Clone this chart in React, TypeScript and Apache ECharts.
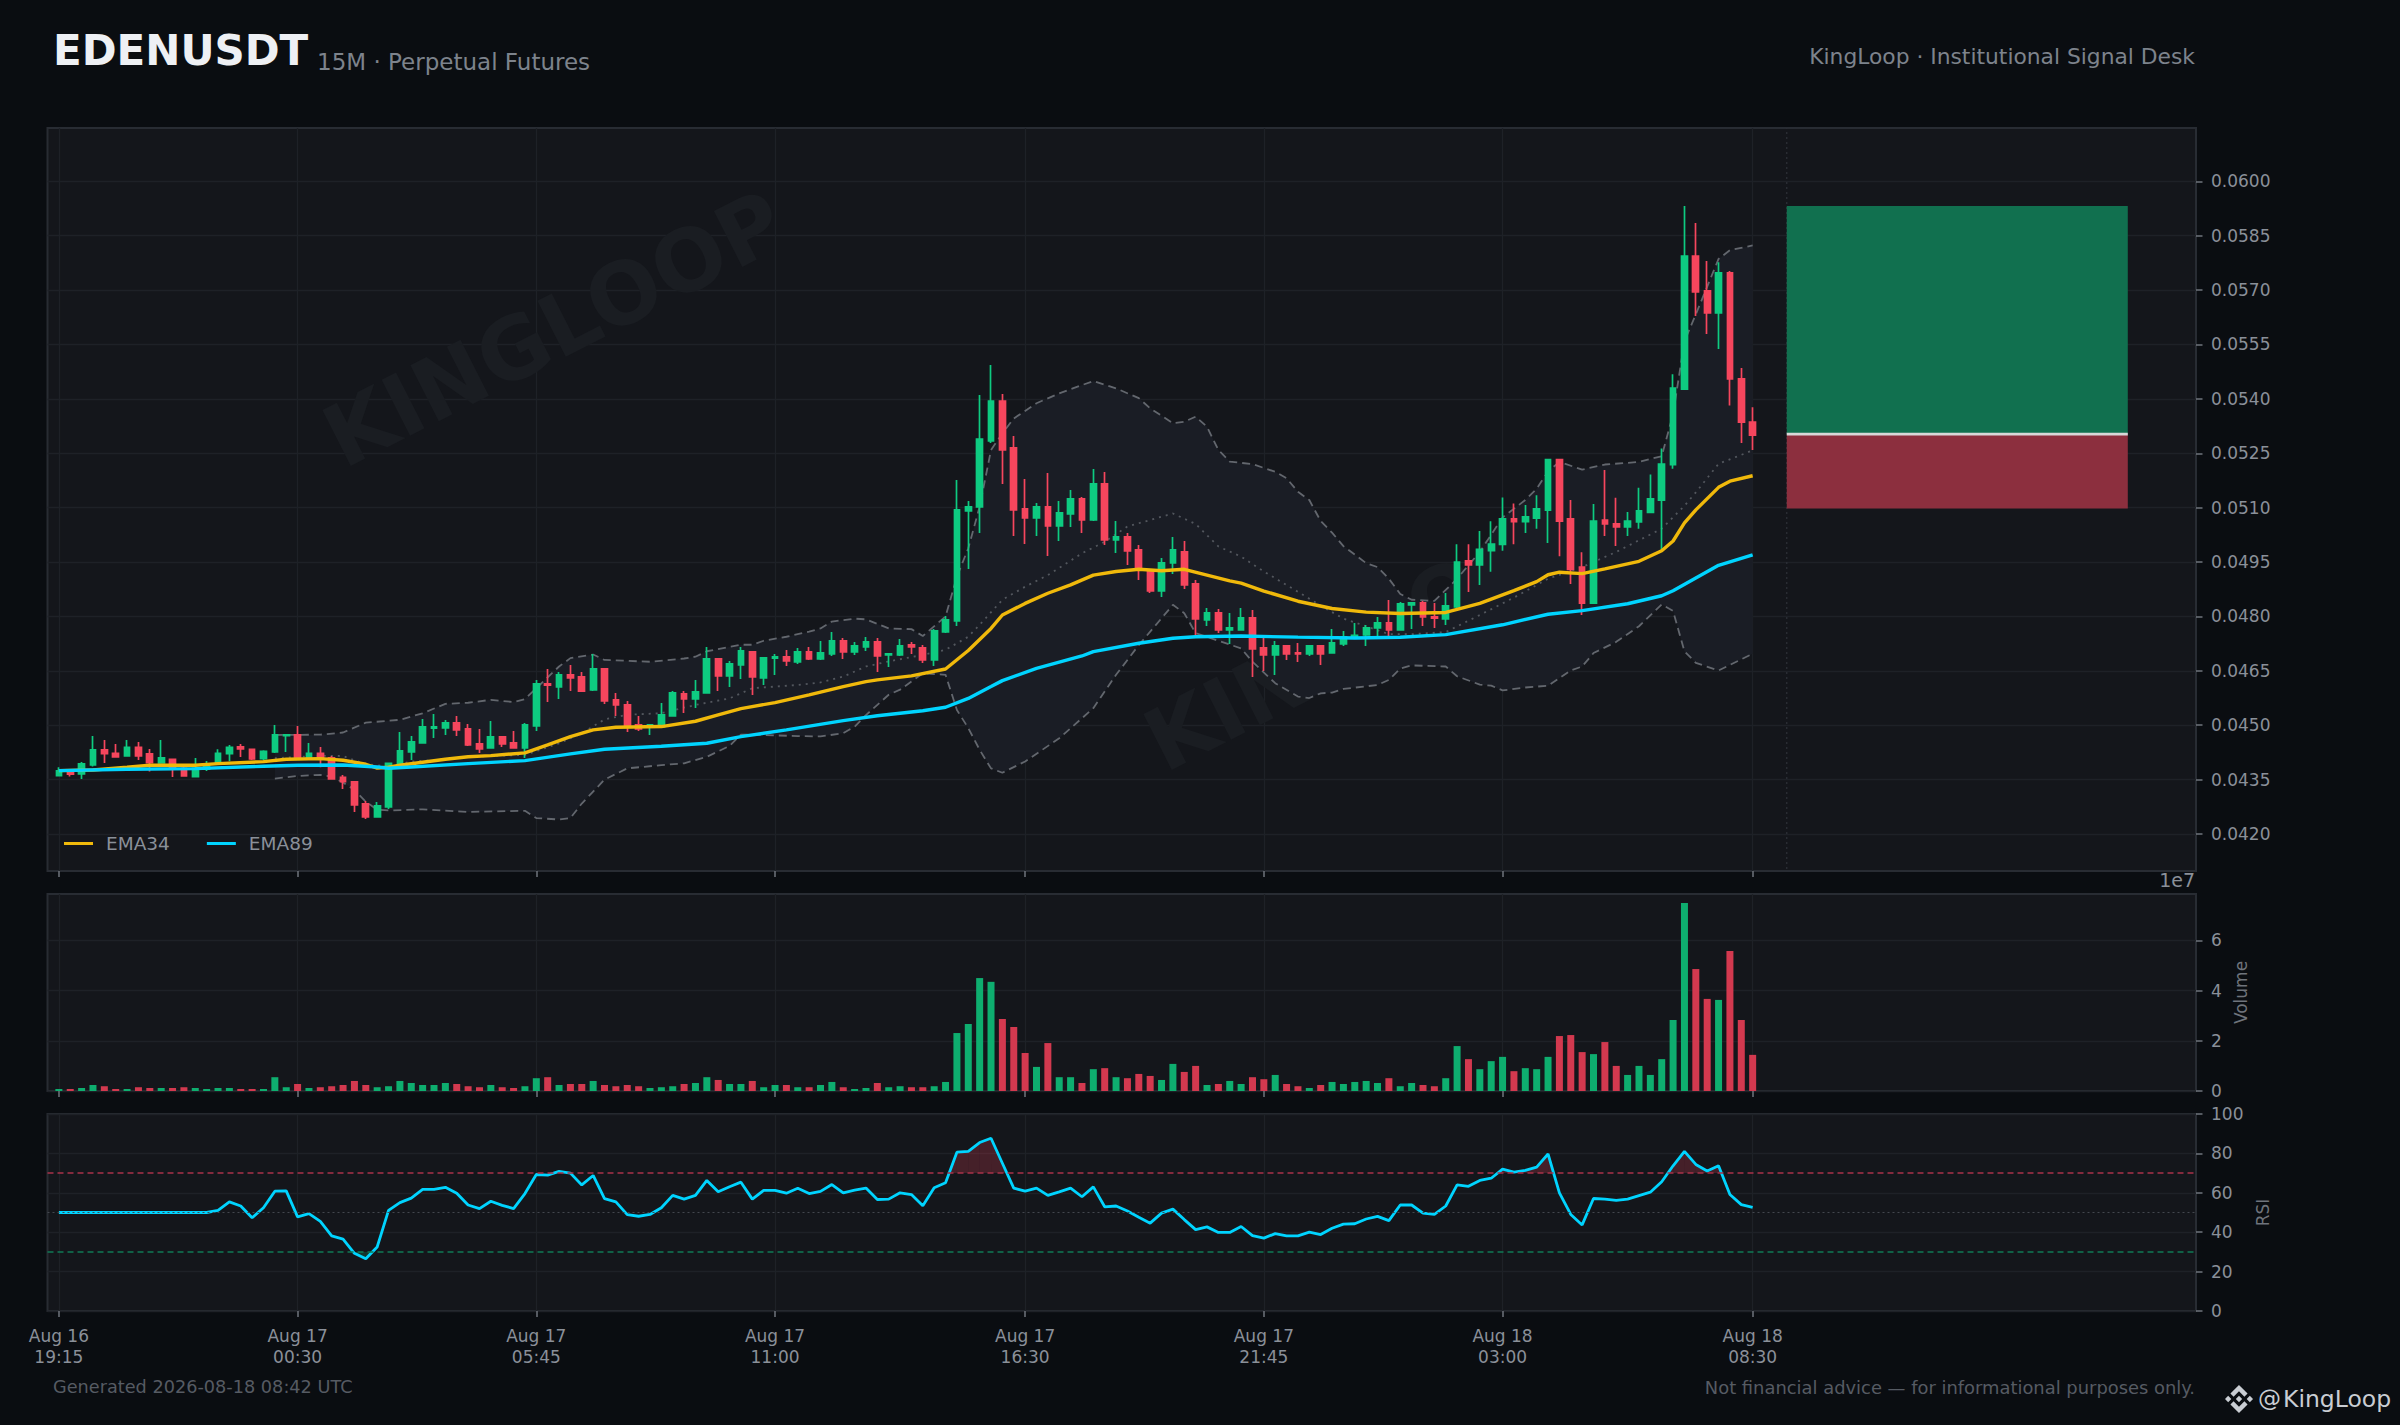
import React, { useEffect, useRef } from "react";
import * as echarts from "echarts";

const FONT = '"DejaVu Sans"';

const opens = [.043611,.043749,.043657,.043905,.044319,.044227,.044153,.044392,.044209,.043960,
.044062,.043813,.043584,.043786,.043933,.044218,.044402,.044337,.044080,.044264,
.044714,.044732,.044107,.044227,.044098,.043565,.043437,.042830,.042472,.042747,
.043933,.044264,.044512,.044916,.044925,.045063,.044898,.044485,.044374,.044678,
.044512,.044374,.044981,.046139,.046056,.046387,.046332,.045974,.046553,.045698,
.045560,.045009,.044963,.044963,.045257,.045863,.045725,.045891,.046828,.046360,
.046663,.047021,.046304,.046847,.046884,.046746,.047021,.046828,.046966,.047325,
.047021,.047159,.047297,.046939,.046939,.047214,.047132,.046801,.047573,.047876,
.050909,.051019,.052839,.053942,.052646,.050964,.050716,.051019,.050496,.050826,
.051240,.050661,.051654,.050110,.050192,.049834,.049282,.048703,.049475,.049779,
.048896,.047904,.048097,.047628,.047628,.047959,.047132,.046939,.047187,.046994,
.046966,.047187,.046994,.047242,.047453,.047490,.047683,.047821,.047628,.048317,
.048372,.047986,.047931,.048264,.049530,.049424,.049815,.049984,.050691,.050617,
.050712,.050933,.052327,.050691,.049361,.048370,.050659,.050554,.050469,.050607,
.050870,.051208,.052189,.054268,.057940,.056980,.056368,.057476,.054553,.053360];

const closes = [.043740,.043648,.043933,.044319,.044218,.044126,.044392,.044153,.043970,.044098,
.043813,.043602,.043813,.043905,.044227,.044392,.044346,.044071,.044282,.044732,
.044732,.044107,.044227,.044098,.043519,.043446,.042802,.042472,.042775,.043951,
.044291,.044539,.044953,.044953,.045063,.044870,.044457,.044347,.044678,.044485,
.044374,.045009,.046139,.046102,.046387,.046304,.045937,.046553,.045670,.045560,
.044953,.044898,.045009,.045284,.045891,.045725,.045919,.046828,.046360,.046691,
.047049,.046332,.046856,.046884,.046773,.047021,.046828,.046994,.047325,.047021,
.047187,.047297,.046911,.046966,.047187,.047159,.046801,.047600,.047904,.050937,
.051019,.052894,.053942,.052591,.050937,.050716,.051019,.050496,.050854,.051240,
.050661,.051654,.050110,.050192,.049806,.049282,.048703,.049475,.049834,.048869,
.047931,.048097,.047628,.047683,.047959,.047104,.046939,.047187,.046966,.046966,
.047187,.046966,.047269,.047435,.047481,.047683,.047821,.047628,.048345,.048372,
.047986,.047950,.048290,.049500,.049424,.049847,.049994,.050691,.050617,.050744,
.050965,.052327,.050628,.049298,.048370,.050628,.050554,.050469,.050628,.050912,
.051240,.052199,.054299,.057940,.056948,.056368,.057476,.054553,.053360,.053002];

const highs = [.043841,.043767,.043988,.044705,.044595,.044484,.044595,.044539,.044346,.044595,
.044062,.043905,.044098,.044016,.044337,.044457,.044484,.044337,.044310,.045008,
.044732,.044981,.044512,.044402,.044153,.043630,.043464,.042913,.042885,.043951,
.044815,.044705,.045174,.045312,.045146,.045256,.045036,.044898,.045119,.044678,
.044843,.045064,.046249,.046553,.046470,.046663,.046470,.046966,.046553,.045891,
.045670,.045257,.045036,.045615,.045946,.045946,.046249,.047159,.046828,.046773,
.047159,.047049,.046884,.046966,.047077,.047132,.047159,.047325,.047573,.047407,
.047297,.047435,.047407,.046966,.047380,.047297,.047214,.047655,.048014,.051764,
.051185,.054108,.054935,.054135,.052977,.051792,.051130,.051957,.051185,.051488,
.051295,.052067,.051984,.050633,.050302,.049972,.049282,.049613,.050192,.050082,
.049007,.048235,.048207,.048097,.048235,.048179,.047407,.047325,.047214,.047269,
.047214,.047187,.047655,.047600,.047821,.047766,.047986,.048455,.048400,.048400,
.048428,.048372,.048648,.049994,.049994,.050353,.050628,.051282,.051113,.051070,
.051345,.052337,.052337,.051208,.049773,.051102,.052041,.051271,.050881,.051546,
.051915,.052632,.054680,.059322,.058847,.057803,.057771,.057529,.054848,.053772];

const lows = [.043584,.043584,.043519,.043859,.043960,.044126,.044153,.044043,.043721,.043960,
.043574,.043584,.043584,.043740,.043905,.044006,.044126,.044043,.044043,.044236,
.044264,.044043,.044043,.043841,.043519,.043244,.042609,.042416,.042472,.042692,
.043905,.044043,.044512,.044650,.044732,.044705,.044430,.044237,.044374,.044402,
.044374,.044099,.044843,.045643,.045725,.045946,.045919,.045946,.045588,.045257,
.044816,.044843,.044733,.044926,.045257,.045339,.045477,.045891,.045946,.046056,
.046277,.045836,.046111,.046387,.046635,.046691,.046801,.046801,.046911,.046828,
.046939,.047049,.046470,.046608,.046911,.046966,.046718,.046635,.047545,.047738,
.049310,.050302,.052784,.051654,.050220,.050000,.050220,.049668,.050082,.050468,
.050302,.050633,.049972,.049751,.049420,.049007,.048648,.048538,.049172,.048758,
.047490,.047738,.047545,.047242,.047628,.046332,.046497,.046387,.046801,.046746,
.046911,.046663,.046994,.047187,.047435,.047187,.047435,.047462,.047628,.047655,
.047738,.047683,.047766,.048232,.048675,.048865,.049235,.049815,.049994,.050300,
.050416,.050026,.049657,.048897,.048042,.048348,.050216,.049942,.050216,.050416,
.050860,.049836,.052073,.054268,.056283,.055787,.055376,.053814,.052780,.052590];

const volumesE7 = [.08,.08,.12,.24,.19,.08,.08,.15,.12,.12,.12,.15,.12,.08,.12,.12,.08,.08,.08,.55,
.15,.28,.12,.15,.19,.24,.40,.24,.15,.19,.40,.32,.24,.24,.32,.28,.19,.15,.24,.15,
.12,.19,.51,.55,.24,.28,.28,.40,.24,.19,.24,.19,.12,.15,.19,.28,.32,.55,.44,.28,
.28,.40,.15,.24,.24,.15,.15,.24,.36,.15,.08,.12,.32,.15,.19,.15,.15,.19,.36,2.31,
2.67,4.50,4.35,2.87,2.55,1.51,.96,1.91,.55,.55,.32,.87,.91,.55,.51,.68,.60,.44,1.08,.76,
1.00,.24,.28,.40,.28,.55,.47,.64,.28,.19,.12,.24,.36,.28,.36,.40,.32,.51,.19,.32,
.24,.19,.51,1.79,1.27,.87,1.19,1.36,.79,.91,.87,1.36,2.19,2.23,1.55,1.47,1.95,1.00,.64,1.00,
.64,1.27,2.83,7.49,4.86,3.67,3.63,5.58,2.83,1.44];

const rsiValues = [50,50,50,50,50,50,50,50,50,50,50,50,50,50,51.1,55.4,53.3,47.3,52.4,60.8,
61.0,47.8,49.4,45.5,38.1,36.5,29.3,26.5,32.5,51.1,55.0,57.3,61.7,61.7,62.8,59.8,53.8,52.0,55.7,53.6,
52.0,59.6,69.3,69.0,70.9,70.0,64.0,68.8,57.0,55.4,48.9,48.1,49.0,52.4,58.7,56.8,58.7,66.3,60.5,63.1,
65.4,56.8,61.2,61.2,59.8,62.3,59.6,60.7,64.2,60.0,61.4,62.4,56.6,56.8,60.0,59.1,53.4,62.6,65.1,80.6,
81.0,85.5,87.7,75.0,62.4,60.8,62.4,58.7,60.5,62.4,58.0,63.0,52.9,53.3,50.8,47.6,44.6,49.7,51.7,46.4,
41.3,42.7,39.9,39.9,42.9,38.3,37.0,39.3,38.1,38.1,40.0,38.8,42.0,44.1,44.3,46.7,48.0,45.9,53.8,53.8,
49.7,49.0,53.3,64.0,63.3,66.3,67.4,72.0,70.5,71.4,73.0,79.7,60.0,49.0,43.7,57.1,56.8,56.1,56.8,58.6,
60.3,65.6,73.7,81.0,74.4,71.1,73.7,59.1,54.0,52.6];

const ema34Points = [[0,.043749],[3,.043767],[6,.043841],[8,.043896],[12,.043896],[14,.043942],[18,.043997],[20,.044062],[23,.044080],[25,.044034],[27,.043924],[28,.04382],[29,.043841],[30,.043896],[32,.043979],[34,.044062],[36,.04413],[38,.044163],[41,.044237],[43,.044457],[45,.044687],[47,.044871],[49,.044944],[53,.044963],[56,.04511],[58,.045284],[60,.045459],[63,.045624],[66,.045836],[69,.046066],[71,.046203],[72,.04625],[75,.04636],[78,.04655],[80,.04706],[82,.04767],[83,.04804],[85,.04836],[87,.04864],[89,.04887],[91,.04914],[93,.04924],[95,.0493],[97,.04926],[99,.0493],[101,.04914],[103,.04898],[104,.04892],[106,.0487],[109,.04842],[112,.04822],[115,.04812],[118,.04808],[122,.04811],[125,.04836],[128,.04871],[130,.04896],[131,.04915],[132,.04922],[134,.04918],[136,.04931],[139,.04952],[141,.04981],[142,.05008],[143,.05058],[144,.05094],[146,.05156],[147,.05173],[149,.05188]];

const ema89Points = [[0,.043749],[6,.043786],[12,.043804],[18,.043868],[21,.043896],[25,.043905],[28,.04385],[29,.043813],[31,.04385],[36,.04394],[41,.044025],[45,.044209],[48,.044338],[53,.04442],[57,.044503],[60,.044687],[64,.044871],[69,.045128],[72,.04526],[76,.0454],[78,.045495],[80,.04574],[82,.046065],[83,.04623],[86,.04657],[90,.04691],[91,.04703],[95,.04726],[98,.0474],[100,.04744],[104,.04746],[109,.04743],[114,.047407],[118,.047426],[122,.0475],[127,.04777],[131,.04806],[134,.04816],[138,.04835],[141,.04857],[142,.04871],[144,.04906],[146,.04941],[149,.0497]];

const bbUpperPoints = [[19,.04473],[23,.04474],[25,.0448],[27,.04507],[30,.04515],[32,.04533],[34,.04559],[36,.04562],[38,.0457],[40,.04564],[41,.04572],[42,.04602],[44,.04662],[45,.04685],[47,.04695],[48,.0468],[52,.04675],[55,.04684],[56,.04689],[57,.04704],[60,.04722],[61,.04722],[62,.04733],[64,.04744],[66,.04758],[67,.04767],[68,.04786],[70,.04794],[71,.04792],[73,.04767],[75,.04765],[76,.04746],[78,.048],[79,.0491],[80,.04988],[81,.05103],[82,.05259],[83,.05305],[84,.05346],[86,.05388],[88,.05415],[90,.05438],[91,.05449],[93,.05429],[95,.05402],[96,.05374],[98,.05333],[99,.05337],[100,.05351],[101,.05323],[102,.05259],[103,.05227],[105,.0522],[107,.05199],[108,.05181],[109,.05144],[110,.05121],[111,.05063],[112,.05031],[113,.04994],[115,.04947],[116,.04936],[117,.04904],[118,.04862],[119,.04846],[121,.04843],[122,.04873],[123,.04904],[125,.04978],[127,.05073],[129,.05121],[130,.05152],[131,.052],[132,.05226],[134,.05205],[136,.05219],[139,.05226],[141,.05242],[142,.05358],[143,.05559],[144,.05633],[146,.05786],[147,.0581],[149,.05823]];

const bbMidPoints = [[19,.04409],[23,.04416],[25,.04415],[27,.04392],[28,.0439],[29,.04384],[31,.044],[33,.04404],[36,.04413],[41,.04418],[44,.0445],[46,.04478],[48,.04516],[50,.04529],[53,.04533],[56,.04556],[59,.04574],[61,.04602],[65,.04611],[67,.04618],[69,.04634],[71,.04662],[73,.04676],[76,.04694],[78,.04708],[80,.04744],[81,.04777],[83,.04846],[85,.04882],[87,.04914],[90,.04974],[92,.05006],[94,.05048],[98,.05084],[100,.05055],[102,.04993],[104,.04965],[106,.04924],[109,.04868],[111,.0483],[113,.04794],[115,.04773],[117,.04751],[119,.04751],[122,.04757],[125,.04804],[128,.04852],[131,.04904],[134,.04936],[137,.04978],[141,.05042],[143,.05105],[144,.05142],[146,.05221],[149,.05258]];

const bbLowerPoints = [[19,.04353],[21,.0436],[23,.04363],[24,.04358],[25,.04342],[26,.04322],[27,.04289],[28,.04267],[29,.04265],[32,.04268],[36,.04261],[41,.04264],[42,.04244],[44,.0424],[45,.04244],[46,.04284],[48,.0435],[50,.04381],[53,.0439],[55,.04395],[57,.04413],[59,.04443],[60,.04474],[62,.04473],[65,.0447],[67,.04469],[69,.04478],[70,.04496],[71,.04528],[73,.04584],[74,.04598],[76,.04643],[78,.04639],[79,.04542],[80,.04492],[81,.04432],[82,.04381],[83,.04369],[85,.044],[88,.04464],[91,.04547],[93,.04639],[95,.04721],[98,.04832],[99,.04809],[100,.04754],[104,.04712],[105,.04675],[107,.04616],[109,.04579],[110,.04575],[111,.04588],[112,.0459],[113,.046],[116,.04611],[117,.04625],[118,.04656],[119,.04665],[122,.04662],[123,.04635],[125,.04612],[126,.04609],[127,.04596],[129,.04604],[131,.04609],[133,.04651],[134,.04662],[135,.04699],[137,.0473],[139,.04773],[141,.04833],[142,.04815],[143,.04704],[144,.04672],[146,.04651],[149,.04697]];

const zoneStartIndex = 152;
const zoneEndIndex = 182;
const targetPrice = 0.05932;
const entryPrice = 0.05303;
const stopPrice = 0.05098;

const xTickIndexes = [0, 21, 42, 63, 85, 106, 127, 149];
const xTickLabels = ["Aug 16\n19:15", "Aug 17\n00:30", "Aug 17\n05:45", "Aug 17\n11:00", "Aug 17\n16:30", "Aug 17\n21:45", "Aug 18\n03:00", "Aug 18\n08:30"];
const priceTickLabels = ["0.0420", "0.0435", "0.0450", "0.0465", "0.0480", "0.0495", "0.0510", "0.0525", "0.0540", "0.0555", "0.0570", "0.0585", "0.0600"];
const volumeTicks = [0, 2, 4, 6];
const rsiTicks = [0, 20, 40, 60, 80, 100];

const BG = "#0a0d11";
const PANEL = "#14161b";
const BORDER = "#282c33";
const GRID = "#1e2127";
const TICK = "#6f747c";
const LABEL = "#8a9099";
const UP = "#0ecb81";
const DOWN = "#f6465d";
const VOL_UP = "#0eae6f";
const VOL_DOWN = "#d3394f";
const EMA34 = "#f0b90b";
const EMA89 = "#00d4ff";

const LOGO =
  "M16.624 13.9202l2.7175 2.7154-7.353 7.353-7.353-7.352 2.7175-2.7164 4.6355 4.6595 4.6356-4.6595zm4.6366-4.6366L24 12l-2.7154 2.7164L18.5682 12l2.6924-2.7164zm-9.272.001l2.7163 2.6914-2.7164 2.7174v-.001L9.2721 12l2.7164-2.7154zm-9.2722-.001L5.4088 12l-2.6914 2.6924L0 12l2.7164-2.7164zM11.9885.0115l7.353 7.329-2.7174 2.7154-4.6356-4.6356-4.6355 4.6595-2.7174-2.7154 7.353-7.353z";
echarts.graphic.registerShape("logo", echarts.graphic.extendPath(LOGO, {}));

const xAxisFor = (gridIndex: number, showLabel: boolean) => ({
  type: "value",
  gridIndex,
  min: -1,
  max: 188,
  axisLine: { show: false, onZero: false },
  axisTick: { show: true, length: 6, customValues: xTickIndexes, lineStyle: { color: TICK, width: 1.5 } },
  axisLabel: {
    show: showLabel,
    customValues: xTickIndexes,
    color: LABEL,
    fontFamily: FONT,
    fontSize: 17,
    lineHeight: 21,
    margin: 14,
    formatter: (v: number) => xTickLabels[xTickIndexes.indexOf(Math.round(v))] ?? "",
  },
  splitLine: { show: true, lineStyle: { color: GRID, width: 1.3 } },
});

const yAxisFor = (gridIndex: number, extra: any) => ({
  type: "value",
  gridIndex,
  position: "right",
  axisLine: { show: false, onZero: false },
  axisTick: { show: true, length: 6.5, lineStyle: { color: TICK, width: 1.5 }, ...(extra.ticks ? { customValues: extra.ticks } : {}) },
  axisLabel: {
    color: LABEL,
    fontFamily: FONT,
    fontSize: 17,
    margin: 15,
    ...(extra.ticks ? { customValues: extra.ticks } : {}),
    ...(extra.formatter ? { formatter: extra.formatter } : {}),
  },
  splitLine: { show: true, lineStyle: { color: GRID, width: 1.3 } },
  min: extra.min,
  max: extra.max,
  ...(extra.name
    ? {
        name: extra.name,
        nameLocation: "middle",
        nameRotate: 90,
        nameGap: extra.nameGap,
        nameTextStyle: { color: "#6f747c", fontFamily: FONT, fontSize: 17 },
      }
    : {}),
});

const text = (t: string, x: number, y: number, font: string, fill: string, align = "left", extra: any = {}) => ({
  type: "text",
  x,
  y,
  silent: true,
  ...extra,
  style: { text: t, x: 0, y: 0, font, fill, textAlign: align, textVerticalAlign: "middle" },
});

export default function App() {
  const ref = useRef<HTMLDivElement>(null);
  useEffect(() => {
    document.body.style.margin = "0";
    document.body.style.background = BG;
    const chart = echarts.init(ref.current!, undefined, { renderer: "svg" });

    const candleData = opens.map((o, i) => [i, o, closes[i], lows[i], highs[i]]);
    const volumeData = volumesE7.map((v, i) => ({
      value: [i, v],
      itemStyle: { color: closes[i] >= opens[i] ? VOL_UP : VOL_DOWN },
    }));
    const rsiData = rsiValues.map((v, i) => [i, v]);

    const bandPolygon = () => ({
      type: "custom",
      xAxisIndex: 0,
      yAxisIndex: 0,
      z: 1,
      silent: true,
      clip: true,
      data: [[bbUpperPoints[0][0], bbUpperPoints[0][1]]],
      renderItem: (_p: any, api: any) => ({
        type: "polygon",
        shape: { points: [...bbUpperPoints, ...[...bbLowerPoints].reverse()].map((p) => api.coord(p)) },
        style: { fill: "#1a1d25" },
      }),
    });

    const zonesSeries = {
      type: "custom",
      xAxisIndex: 0,
      yAxisIndex: 0,
      z: 1,
      silent: true,
      clip: true,
      data: [[zoneStartIndex, entryPrice]],
      renderItem: (_p: any, api: any) => {
        const tl = api.coord([zoneStartIndex, targetPrice]);
        const mr = api.coord([zoneEndIndex, entryPrice]);
        const br = api.coord([zoneEndIndex, stopPrice]);
        const ml = api.coord([zoneStartIndex, entryPrice]);
        const vt = api.coord([zoneStartIndex, 0.0615]);
        const vb = api.coord([zoneStartIndex, 0.0409]);
        return {
          type: "group",
          children: [
            { type: "line", shape: { x1: vt[0], y1: vt[1], x2: vb[0], y2: vb[1] }, style: { stroke: "#2c3037", lineWidth: 1.3, lineDash: [2, 3] } },
            { type: "rect", shape: { x: tl[0], y: tl[1], width: mr[0] - tl[0], height: mr[1] - tl[1] }, style: { fill: "#11704f" } },
            { type: "rect", shape: { x: ml[0], y: ml[1], width: br[0] - ml[0], height: br[1] - ml[1] }, style: { fill: "#8c2f3e" } },
            { type: "line", shape: { x1: ml[0], y1: ml[1], x2: mr[0], y2: mr[1] }, style: { stroke: "#d8d8d8", lineWidth: 2.8 } },
          ],
        };
      },
    };

    const rsiFillSeries = {
      type: "custom",
      xAxisIndex: 2,
      yAxisIndex: 2,
      z: 1,
      silent: true,
      clip: true,
      data: [[0, 50]],
      renderItem: (_p: any, api: any) => {
        const children: any[] = [];
        const addRegion = (level: number, above: boolean, fill: string) => {
          for (let i = 0; i < rsiValues.length - 1; i++) {
            const a = rsiValues[i];
            const b = rsiValues[i + 1];
            const inA = above ? a > level : a < level;
            const inB = above ? b > level : b < level;
            if (!inA && !inB) continue;
            const cross = inA && inB ? null : i + (level - a) / (b - a);
            const pts = inA && inB
              ? [[i, level], [i, a], [i + 1, b], [i + 1, level]]
              : inA
              ? [[i, level], [i, a], [cross, level]]
              : [[cross, level], [i + 1, b], [i + 1, level]];
            children.push({ type: "polygon", shape: { points: pts.map((p) => api.coord(p)) }, style: { fill } });
          }
        };
        addRegion(70, true, "rgba(246,70,93,0.22)");
        addRegion(30, false, "rgba(14,203,129,0.18)");
        return { type: "group", children };
      },
    };

    const bbLine = (name: string, data: number[][], dash: number[], color: string) => ({
      name,
      type: "line",
      xAxisIndex: 0,
      yAxisIndex: 0,
      z: 2,
      data,
      showSymbol: false,
      symbol: "none",
      silent: true,
      lineStyle: { color, width: 1.8, type: dash },
    });

    const emaLine = (name: string, data: number[][], color: string) => ({
      name,
      type: "line",
      xAxisIndex: 0,
      yAxisIndex: 0,
      z: 5,
      data,
      showSymbol: false,
      symbol: "none",
      silent: true,
      itemStyle: { color },
      lineStyle: { color, width: 3.4 },
    });

    chart.setOption({
      animation: false,
      backgroundColor: BG,
      textStyle: { fontFamily: FONT },
      grid: [
        { left: 47.5, width: 2148.5, top: 128, height: 743, show: true, backgroundColor: PANEL, borderColor: BORDER, borderWidth: 2 },
        { left: 47.5, width: 2148.5, top: 894, height: 197, show: true, backgroundColor: PANEL, borderColor: BORDER, borderWidth: 2 },
        { left: 47.5, width: 2148.5, top: 1114, height: 197, show: true, backgroundColor: PANEL, borderColor: BORDER, borderWidth: 2 },
      ],
      xAxis: [xAxisFor(0, false), xAxisFor(1, false), xAxisFor(2, true)],
      yAxis: [
        yAxisFor(0, { min: 0.04098, max: 0.06147, ticks: priceTickLabels.map(Number), formatter: (v: number) => v.toFixed(4) }),
        yAxisFor(1, { min: 0, max: 7.85, ticks: volumeTicks, name: "Volume", nameGap: 33, formatter: (v: number) => String(v) }),
        yAxisFor(2, { min: 0, max: 100, ticks: rsiTicks, name: "RSI", nameGap: 55, formatter: (v: number) => String(v) }),
      ],
      legend: {
        data: ["EMA34", "EMA89"],
        left: 59,
        top: 829,
        orient: "horizontal",
        icon: "rect",
        itemWidth: 29,
        itemHeight: 3,
        itemGap: 37,
        selectedMode: false,
        textStyle: { color: LABEL, fontFamily: FONT, fontSize: 18.5, padding: [0, 0, 0, 8] },
      },
      graphic: [
        text("KINGLOOP", 554, 329, `bold 86px ${FONT}`, "#1a1d22", "center", { rotation: 0.47, z: 1 }),
        text("KINGLOOP", 1375, 633, `bold 86px ${FONT}`, "#1a1d22", "center", { rotation: 0.47, z: 1 }),
        text("EDENUSDT", 53, 50, `bold 42px ${FONT}`, "#eef0f4"),
        text("15M · Perpetual Futures", 317, 62, `23px ${FONT}`, "#7d838c"),
        text("KingLoop · Institutional Signal Desk", 2195, 56, `21.8px ${FONT}`, "#7d838c", "right"),
        text("1e7", 2195, 880, `19px ${FONT}`, LABEL, "right"),
        text("Generated 2026-08-18 08:42 UTC", 53, 1387, `17.7px ${FONT}`, "#565b63"),
        text("Not financial advice — for informational purposes only.", 2195, 1387, `17.9px ${FONT}`, "#565b63", "right"),
        { type: "logo", x: 2225, y: 1385, scaleX: 28 / 24, scaleY: 28 / 24, silent: true, style: { fill: "#c9cdd3" } },
        text("@", 2258, 1398, `23px ${FONT}`, "#c9cdd3"),
        text("KingLoop", 2283, 1399, `23.5px ${FONT}`, "#c9cdd3"),
      ],
      series: [
        bandPolygon(),
        zonesSeries,
        bbLine("BB upper", bbUpperPoints, [8, 5], "#63676e"),
        bbLine("BB lower", bbLowerPoints, [8, 5], "#63676e"),
        bbLine("BB mid", bbMidPoints, [2, 5], "#53575e"),
        {
          name: "Price",
          type: "candlestick",
          xAxisIndex: 0,
          yAxisIndex: 0,
          z: 3,
          barWidth: 6.2,
          silent: true,
          itemStyle: { color: UP, color0: DOWN, borderColor: UP, borderColor0: DOWN, borderWidth: 1.7 },
          data: candleData,
        },
        emaLine("EMA34", ema34Points, EMA34),
        emaLine("EMA89", ema89Points, EMA89),
        {
          name: "Volume",
          type: "bar",
          xAxisIndex: 1,
          yAxisIndex: 1,
          barWidth: 7,
          silent: true,
          data: volumeData,
        },
        rsiFillSeries,
        {
          name: "RSI",
          type: "line",
          xAxisIndex: 2,
          yAxisIndex: 2,
          z: 3,
          data: rsiData,
          showSymbol: false,
          symbol: "none",
          silent: true,
          lineStyle: { color: EMA89, width: 2.8 },
          markLine: {
            silent: true,
            symbol: "none",
            animation: false,
            label: { show: false },
            data: [
              { yAxis: 70, lineStyle: { color: "#a8324a", type: [6, 4], width: 1.6 } },
              { yAxis: 30, lineStyle: { color: "#0f7a55", type: [6, 4], width: 1.6 } },
              { yAxis: 50, lineStyle: { color: "#43474e", type: [2, 3], width: 1.2 } },
            ],
          },
        },
      ],
    });

    return () => chart.dispose();
  }, []);
  return <div ref={ref} style={{ position: "absolute", left: 0, top: 0, width: 2400, height: 1425 }} />;
}
